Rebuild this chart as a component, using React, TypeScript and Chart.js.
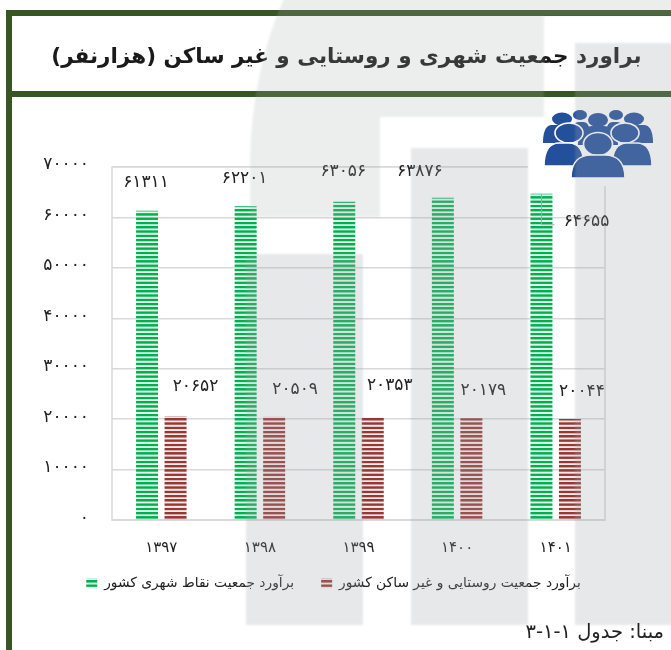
import React, { useEffect, useRef } from "react";
import { Chart, registerables } from "chart.js";

Chart.register(...registerables);

const FONT = "'DejaVu Sans', sans-serif";
const TITLE = "براورد جمعیت شهری و روستایی و غیر ساکن (هزارنفر)";
const SOURCE = "مبنا: جدول \u2066۳-۱-۱\u2069";
const years = ["1397", "1398", "1399", "1400", "1401"];
const urban = [61311, 62201, 63056, 63876, 64655];
const rural = [20652, 20509, 20353, 20179, 20044];
const urbanName = "برآورد جمعیت نقاط شهری کشور";
const ruralName = "برآورد جمعیت روستایی و غیر ساکن کشور";
const urbanLabelShift = [[-1, -28], [-1, -28], [-1, -30], [-23, -26], [45, 28]];
const ruralLabelShift = [[20, -29], [21, -27], [17, -32], [12, -28], [12, -27]];

const fa = (v: number | string) =>
  String(v).replace(/\d/g, (d) => "۰۱۲۳۴۵۶۷۸۹"[Number(d)]);

function stripes(color: string): CanvasPattern {
  const c = document.createElement("canvas");
  c.width = 8;
  c.height = 8;
  const x = c.getContext("2d")!;
  x.fillStyle = color;
  x.fillRect(0, 0, 8, 4.5);
  x.globalAlpha = 0.1;
  x.fillRect(0, 5, 8, 3);
  const p = x.createPattern(c, "repeat")!;
  p.setTransform(new DOMMatrix().scale(1, 0.5333));
  return p;
}

function drawIcon(ctx: CanvasRenderingContext2D) {
  const blue = "#234F9B";
  const head = (x: number, y: number, rx: number, ry: number, outline = false) => {
    ctx.beginPath();
    ctx.ellipse(x, y, rx, ry, 0, 0, Math.PI * 2);
    ctx.fillStyle = blue;
    ctx.fill();
    if (outline) {
      ctx.strokeStyle = "#fff";
      ctx.lineWidth = 1.6;
      ctx.stroke();
    }
  };
  const body = (x0: number, x1: number, top: number, bottom: number, outline = false) => {
    const w = x1 - x0;
    ctx.beginPath();
    ctx.moveTo(x0, bottom);
    ctx.bezierCurveTo(x0, top + (bottom - top) * 0.2, x0 + w * 0.2, top, x0 + w * 0.38, top);
    ctx.lineTo(x1 - w * 0.38, top);
    ctx.bezierCurveTo(x1 - w * 0.2, top, x1, top + (bottom - top) * 0.2, x1, bottom);
    ctx.closePath();
    ctx.fillStyle = blue;
    ctx.fill();
    if (outline) {
      ctx.strokeStyle = "#fff";
      ctx.lineWidth = 1.6;
      ctx.stroke();
    }
  };
  ctx.save();
  head(580, 115, 7, 5);
  head(616, 115, 7, 5);
  body(572, 590, 122, 135);
  body(606, 624, 122, 135);
  head(562, 119, 10, 6.5);
  head(598, 120, 10, 7);
  head(634, 119, 10, 6.5);
  body(543, 566, 125, 143);
  body(629, 653, 125, 143);
  body(578, 618, 126, 145);
  head(569, 133, 14, 10, true);
  head(625, 133, 14, 10, true);
  body(544, 584, 143, 166, true);
  body(612, 652, 143, 166, true);
  head(598, 144, 14.5, 11.5, true);
  body(571, 625, 155, 178, true);
  ctx.restore();
}

const decorations = {
  id: "decorations",
  afterLayout(chart: any) {
    if (chart.titleBlock) {
      chart.titleBlock.left += 44;
      chart.titleBlock.right += 44;
    }
    if (chart.legend) {
      chart.legend.left += 31;
      chart.legend.right += 31;
    }
  },
  beforeDraw(chart: any) {
    const { ctx } = chart;
    ctx.save();
    ctx.fillStyle = "#375623";
    ctx.fillRect(6, 10, 6, 640);
    ctx.fillRect(6, 10, 665, 6);
    ctx.fillRect(6, 91, 665, 6);
    ctx.restore();
  },
  beforeDatasetsDraw(chart: any) {
    const { ctx, chartArea: a } = chart;
    ctx.save();
    ctx.strokeStyle = "#D9D9D9";
    ctx.lineWidth = 1.5;
    ctx.strokeRect(a.left, a.top, a.right - a.left, a.bottom - a.top);
    ctx.restore();
  },
  afterDatasetsDraw(chart: any) {
    const { ctx } = chart;
    ctx.save();
    ctx.font = `17px ${FONT}`;
    ctx.fillStyle = "#222";
    ctx.textAlign = "center";
    ctx.textBaseline = "middle";
    const metaU = chart.getDatasetMeta(0).data;
    const metaR = chart.getDatasetMeta(1).data;
    urban.forEach((v, i) => {
      ctx.fillText(fa(v), metaU[i].x + urbanLabelShift[i][0], metaU[i].y + urbanLabelShift[i][1]);
    });
    rural.forEach((v, i) => {
      ctx.fillText(fa(v), metaR[i].x + ruralLabelShift[i][0], metaR[i].y + ruralLabelShift[i][1]);
    });
    const last = metaU[urban.length - 1];
    ctx.strokeStyle = "#A6A6A6";
    ctx.lineWidth = 1;
    ctx.beginPath();
    ctx.moveTo(last.x, last.y);
    ctx.lineTo(last.x, last.y + urbanLabelShift[4][1] + 3);
    ctx.lineTo(last.x + 13, last.y + urbanLabelShift[4][1] + 3);
    ctx.stroke();
    ctx.fillStyle = "#fff";
    ctx.fillRect(528, 100, 128, 86);
    drawIcon(ctx);
    ctx.restore();
  },
  afterDraw(chart: any) {
    const { ctx } = chart;
    ctx.save();
    ctx.filter = "blur(1px)";
    ctx.fillStyle = "rgba(166,168,170,0.21)";
    ctx.beginPath();
    ctx.moveTo(285, -4);
    ctx.lineTo(675, -4);
    ctx.lineTo(675, 16);
    ctx.lineTo(544, 16);
    ctx.lineTo(544, 117);
    ctx.lineTo(380, 117);
    ctx.lineTo(380, 217);
    ctx.lineTo(250, 217);
    ctx.lineTo(250, 160);
    ctx.quadraticCurveTo(252, 70, 285, -4);
    ctx.closePath();
    ctx.fill();
    ctx.fillStyle = "rgba(160,164,170,0.25)";
    ctx.fillRect(246, 254, 117, 371);
    ctx.fillRect(411, 148, 117, 477);
    ctx.fillRect(575, 43, 100, 582);
    ctx.restore();
  },
};

export default function App() {
  const ref = useRef<HTMLCanvasElement>(null);
  useEffect(() => {
    const chart = new Chart(ref.current!, {
      type: "bar",
      data: {
        labels: years.map((y) => fa(y)),
        datasets: [
          { label: "\u00A0\u00A0\u00A0\u00A0" + urbanName, data: urban, backgroundColor: stripes("#00B050"), categoryPercentage: 0.578, barPercentage: 0.772 },
          { label: ruralName, data: rural, backgroundColor: stripes("#953735"), categoryPercentage: 0.578, barPercentage: 0.772 },
        ],
      },
      plugins: [decorations],
      options: {
        animation: false,
        responsive: false,
        layout: { padding: { top: 0, left: 0, right: 66, bottom: 49.5 } },
        plugins: {
          tooltip: { enabled: false },
          title: {
            display: true,
            text: TITLE,
            color: "#1a1a1a",
            font: { family: FONT, size: 21.5, weight: "bold" },
            padding: { top: 45, bottom: 96 },
          },
          legend: {
            position: "bottom",
            labels: {
              boxWidth: 11,
              boxHeight: 10,
              padding: 9.5,
              color: "#222",
              font: { family: FONT, size: 13.8 },
              textDirection: "rtl",
            },
          },
        },
        scales: {
          x: {
            grid: { display: false },
            border: { display: false },
            ticks: { color: "#222", padding: 10.5, maxRotation: 0, autoSkip: false, font: { family: FONT, size: 15 } },
          },
          y: {
            min: 0,
            max: 70000,
            afterFit: (s: any) => { s.width = 112; },
            grid: { color: "#D9D9D9", lineWidth: 1.5, drawTicks: false },
            border: { display: false },
            ticks: {
              stepSize: 10000,
              padding: 23,
              labelOffset: -2,
              color: "#222",
              font: { family: FONT, size: 17 },
              callback: (v: any) => fa(v),
            },
          },
        },
      },
    } as any);
    return () => chart.destroy();
  }, []);
  return (
    <div style={{ position: "absolute", left: 0, top: 0, width: 671, height: 650, overflow: "hidden", background: "#fff" }}>
      <canvas ref={ref} width={671} height={650} dir="rtl" style={{ display: "block" }} />
      <div dir="rtl" style={{ position: "absolute", right: 7, top: 620, fontFamily: FONT, fontSize: 19.5, color: "#222", whiteSpace: "nowrap" }}>
        {SOURCE}
      </div>
    </div>
  );
}
